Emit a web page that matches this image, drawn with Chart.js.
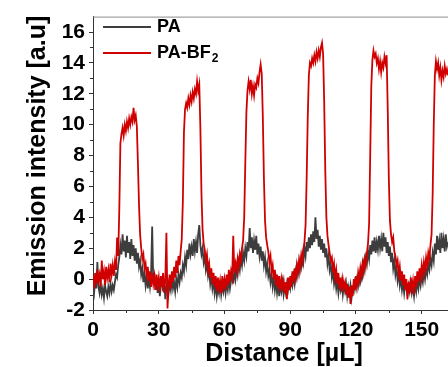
<!DOCTYPE html>
<html>
<head>
<meta charset="utf-8">
<script src="https://cdn.jsdelivr.net/npm/chart.js@4.4.1/dist/chart.umd.min.js"></script>
<style>
  html, body { margin: 0; padding: 0; background: #fff; }
  #wrap { width: 448px; height: 367px; }
</style>
</head>
<body>
<div id="wrap"><canvas id="chart" width="448" height="367"></canvas></div>
<script>
// sample spacing along the distance axis (µL)
const stepUL = 0.5;
const xTicks = [0, 30, 60, 90, 120, 150];
const xMinor = [15, 45, 75, 105, 135];
const yTicks = [-2, 0, 2, 4, 6, 8, 10, 12, 14, 16];
const yMinor = [-1, 1, 3, 5, 7, 9, 11, 13, 15];
const legendNames = ['PA', 'PA-BF'];
const legendSubs = ['', '2'];

// PA, one value every 0.5 µL from 0 to 162
const pa = [
  -0.4, -0.9, -0.1, -0.6, 1.1, -0.5, -0.9, -0.3, -1.0, -0.6, -1.2, -0.4, -0.8, -1.1, -0.5, -0.9, -0.3, -0.8, -0.4, -0.7,
  -0.2, 0.3, 0.1, 0.9, 1.4, 2.2, 1.6, 2.9, 1.8, 2.5, 1.4, 2.8, 1.7, 2.4, 1.3, 2.6, 1.5, 2.2, 1.2, 2.0,
  1.0, 1.7, 0.8, 1.2, 0.3, 0.7, -0.2, 0.4, -0.4, 0.2, -0.6, 0.1, -0.5, 0.3, 3.4, -0.2, 0.4, -0.7, 0.0, -0.9,
  -0.3, -1.1, -0.4, 0.2, -0.8, -0.2, -1.3, -0.5, -0.1, -0.9, -0.3, -0.7, 0.1, -0.6, -0.2, -0.8, 0.0, -0.5, 0.3, -0.2,
  0.4, 0.1, 0.9, 0.5, 1.4, 0.9, 1.9, 1.3, 2.3, 1.6, 2.1, 1.5, 2.6, 1.8, 2.4, 1.7, 2.9, 3.5, 2.2, 1.6,
  2.0, 1.1, 1.5, 0.6, 1.0, 0.2, 0.6, -0.3, 0.2, -0.6, -0.1, -0.9, -0.3, -1.1, -0.5, -0.9, -0.2, -1.0, -0.4, -0.8,
  -0.2, -0.9, -0.3, -0.7, 0.1, -0.6, -0.1, 0.4, -0.3, 0.5, 0.0, 0.8, 0.3, 1.1, 0.6, 1.4, 0.9, 1.7, 1.2, 2.0,
  1.5, 2.4, 1.8, 3.3, 2.0, 2.7, 1.7, 2.5, 1.9, 2.8, 1.6, 2.3, 1.5, 2.1, 1.2, 1.8, 0.9, 1.4, 0.5, 1.0,
  0.2, 0.6, -0.2, 0.3, -0.5, 0.1, -0.7, -0.1, -0.9, -0.3, -1.1, -0.4, -0.8, -0.2, -1.0, -0.5, -0.9, -0.3, -0.7, -0.2,
  -0.6, 0.0, -0.4, 0.2, -0.3, 0.5, 0.1, 0.8, 0.4, 1.2, 0.8, 1.6, 1.1, 2.0, 1.5, 2.4, 1.8, 2.7, 2.0, 2.9,
  2.2, 3.1, 2.4, 4.0, 2.6, 3.2, 2.1, 2.8, 1.9, 2.6, 1.7, 2.3, 1.4, 2.0, 1.0, 1.5, 0.6, 1.0, 0.1, 0.5,
  -0.3, 0.2, -0.6, -0.1, -0.9, -0.3, -0.7, -0.2, -1.0, -0.4, -0.8, -0.3, -1.1, -0.5, -0.9, -0.4, -1.2, -0.6, -0.8, -0.2,
  -0.6, 0.0, -0.4, 0.3, -0.1, 0.6, 0.2, 1.0, 0.6, 1.4, 1.0, 1.8, 1.3, 2.2, 1.6, 2.5, 1.8, 2.7, 1.7, 2.4,
  1.9, 2.8, 2.0, 2.6, 1.8, 3.0, 2.1, 2.7, 1.7, 2.4, 1.5, 2.1, 1.1, 1.7, 0.7, 1.2, 0.3, 0.8, -0.1, 0.4,
  -0.4, 0.1, -0.7, -0.2, -0.9, -0.3, -0.6, -1.0, -0.4, -0.8, -0.2, -0.9, -0.5, -1.1, -0.3, -0.8, -0.1, -0.6, 0.1, -0.4,
  0.2, -0.2, 0.5, 0.0, 0.7, 0.3, 1.0, 0.6, 1.3, 0.9, 1.7, 1.2, 2.3, 1.6, 2.8, 1.9, 2.5, 1.7, 3.0, 2.0,
  2.6, 1.8, 2.9, 2.1, 2.4
];

// PA-BF2, same sampling
const paBF2 = [
  0.2, -0.6, 0.4, -0.3, 0.6, -0.1, 0.3, -0.5, 1.2, 0.0, 0.5, -0.4, 0.8, 0.1, 0.6, -0.2, 1.0, 0.3, 0.9, 0.2,
  1.1, 0.6, 2.7, 1.5, 4.5, 8.8, 9.4, 9.8, 9.3, 10.0, 9.6, 10.2, 9.8, 10.4, 10.0, 10.5, 10.2, 11.1, 10.3, 10.6,
  9.9, 7.5, 4.8, 2.9, 2.0, 1.3, 1.6, 0.7, 1.0, 0.2, 0.8, -0.1, 0.5, -0.5, 0.4, -0.3, 0.2, -0.7, 0.3, -0.4,
  0.1, -0.8, 0.2, -0.5, 0.4, -0.9, 0.0, 3.0, -1.9, -0.3, 0.3, -0.6, 0.5, -0.2, 0.8, 0.1, 1.2, 0.4, 1.5, 0.9,
  1.8, 2.6, 5.0, 9.5, 11.0, 11.4, 11.1, 11.7, 11.3, 11.9, 11.5, 12.1, 11.7, 12.3, 12.0, 12.8, 12.2, 12.6, 9.8, 5.5,
  3.2, 2.3, 1.9, 1.2, 1.6, 0.6, 1.0, 0.1, 0.7, -0.3, 0.4, -0.5, 0.2, -0.8, 0.1, -0.6, -0.1, -0.9, 0.2, -0.5,
  0.0, -0.7, 0.3, -0.4, 0.6, -0.2, 0.5, 0.1, 2.8, 0.4, 1.0, 0.5, 1.3, 0.8, 1.6, 1.2, 2.0, 2.5, 4.0, 7.5,
  10.8, 12.2, 12.8, 12.3, 12.9, 12.0, 12.5, 11.9, 12.6, 12.4, 13.0, 12.7, 13.4, 13.9, 13.3, 10.5, 6.5, 3.8, 2.7, 2.2,
  1.8, 1.1, 1.5, 0.5, 0.9, 0.0, 0.6, -0.4, 0.3, -0.6, 0.2, -0.8, 0.0, -0.5, -0.1, -0.9, -0.2, -1.3, 0.1, -0.7,
  0.2, -0.5, 0.5, -0.2, 0.7, 0.1, 0.9, 0.4, 1.2, 0.7, 1.5, 1.1, 1.9, 2.4, 3.5, 6.5, 10.5, 13.2, 14.0, 13.8,
  14.3, 14.0, 14.5, 14.1, 14.7, 14.3, 14.8, 14.4, 15.0, 15.3, 14.6, 11.5, 7.0, 4.0, 2.8, 2.2, 1.7, 1.2, 1.4, 0.6,
  1.0, 0.1, 0.6, -0.3, 0.4, -0.6, 0.1, -0.8, 0.0, -0.5, -0.2, -1.0, -0.3, -1.2, -0.5, -1.6, -0.4, -1.1, 0.0, -0.7,
  0.2, -0.4, 0.4, -0.1, 0.7, 0.2, 1.0, 0.5, 1.3, 0.9, 1.7, 2.3, 3.6, 8.0, 12.5, 14.2, 14.8, 14.4, 14.6, 14.0,
  14.3, 13.6, 14.1, 13.4, 14.0, 13.7, 14.4, 14.0, 14.5, 11.0, 6.5, 3.8, 2.9, 2.4, 2.7, 1.8, 1.5, 0.9, 1.2, 0.3,
  0.8, -0.1, 0.5, -0.4, 0.3, -0.7, 0.0, -1.3, -0.2, -0.9, 0.1, -0.6, -0.1, -1.0, 0.2, -0.5, 0.5, -0.2, 0.7, 0.1,
  0.9, 0.3, 1.1, 0.6, 1.4, 0.9, 1.7, 1.3, 2.2, 2.9, 5.5, 10.0, 13.2, 14.1, 13.6, 14.0, 13.2, 13.7, 12.9, 13.5,
  13.1, 13.8, 13.3, 13.6, 13.2
];

const FONT = '"Liberation Sans", Arial, sans-serif';
const GRAY = '#3d3d3d';
const RED = '#d00000';

const toPoints = arr => arr.map((v, i) => ({ x: i * stepUL, y: v }));

// minor ticks, top frame, legend and axis titles
const decorations = {
  id: 'decorations',
  afterDraw(chart) {
    const { ctx, chartArea: a, scales: { x, y } } = chart;
    ctx.save();

    ctx.strokeStyle = '#8c8c8c';
    ctx.lineWidth = 1;
    ctx.beginPath();
    ctx.moveTo(a.left, a.top + 0.5);
    ctx.lineTo(a.right, a.top + 0.5);
    ctx.stroke();

    ctx.strokeStyle = '#333';
    xMinor.forEach(v => {
      const px = Math.round(x.getPixelForValue(v)) + 0.5;
      ctx.beginPath();
      ctx.moveTo(px, a.bottom);
      ctx.lineTo(px, a.bottom + 3);
      ctx.stroke();
    });
    yMinor.forEach(v => {
      const py = Math.round(y.getPixelForValue(v)) + 0.5;
      ctx.beginPath();
      ctx.moveTo(a.left, py);
      ctx.lineTo(a.left - 3, py);
      ctx.stroke();
    });

    // legend
    chart.data.datasets.forEach((ds, i) => {
      const ly = 27 + i * 26;
      ctx.strokeStyle = ds.borderColor;
      ctx.lineWidth = 2;
      ctx.beginPath();
      ctx.moveTo(103, ly);
      ctx.lineTo(151, ly);
      ctx.stroke();
      ctx.fillStyle = '#000';
      ctx.textAlign = 'left';
      ctx.textBaseline = 'middle';
      ctx.font = 'bold 18px ' + FONT;
      ctx.fillText(legendNames[i], 157, ly);
      if (legendSubs[i]) {
        const w = ctx.measureText(legendNames[i]).width;
        ctx.font = 'bold 12px ' + FONT;
        ctx.fillText(legendSubs[i], 157 + w + 1, ly + 6);
      }
    });

    // axis titles
    ctx.fillStyle = '#000';
    ctx.font = 'bold 25px ' + FONT;
    ctx.textAlign = 'center';
    ctx.textBaseline = 'middle';
    ctx.fillText('Distance [µL]', 284, 354);
    ctx.translate(38, 156);
    ctx.rotate(-Math.PI / 2);
    ctx.fillText('Emission intensity [a.u]', 0, 0);
    ctx.restore();
  }
};

const tickFont = { family: FONT, size: 21, weight: 'bold' };

new Chart(document.getElementById('chart'), {
  type: 'line',
  data: {
    datasets: [
      { label: 'PA', data: toPoints(pa), borderColor: GRAY, order: 1 },
      { label: 'PA-BF2', data: toPoints(paBF2), borderColor: RED, order: 0 }
    ]
  },
  options: {
    responsive: false,
    animation: false,
    layout: { padding: { top: 10, left: 0, right: 0, bottom: 0 } },
    plugins: { legend: { display: false }, tooltip: { enabled: false } },
    elements: {
      point: { radius: 0 },
      line: { borderWidth: 1.8, tension: 0 }
    },
    scales: {
      x: {
        type: 'linear',
        min: 0,
        max: 162,
        afterFit: s => { s.height = 57; },
        afterBuildTicks: s => { s.ticks = xTicks.map(v => ({ value: v })); },
        grid: { drawOnChartArea: false, tickLength: 4, tickColor: '#333' },
        border: { color: '#333', width: 1 },
        ticks: { color: '#000', font: tickFont, padding: 4, maxRotation: 0, autoSkip: false }
      },
      y: {
        type: 'linear',
        min: -2,
        max: 17,
        afterFit: s => { s.width = 93; },
        afterBuildTicks: s => { s.ticks = yTicks.map(v => ({ value: v })); },
        grid: { drawOnChartArea: false, tickLength: 4, tickColor: '#333' },
        border: { color: '#333', width: 1 },
        ticks: { color: '#000', font: tickFont, padding: 4, autoSkip: false }
      }
    }
  },
  plugins: [decorations]
});
</script>
</body>
</html>
